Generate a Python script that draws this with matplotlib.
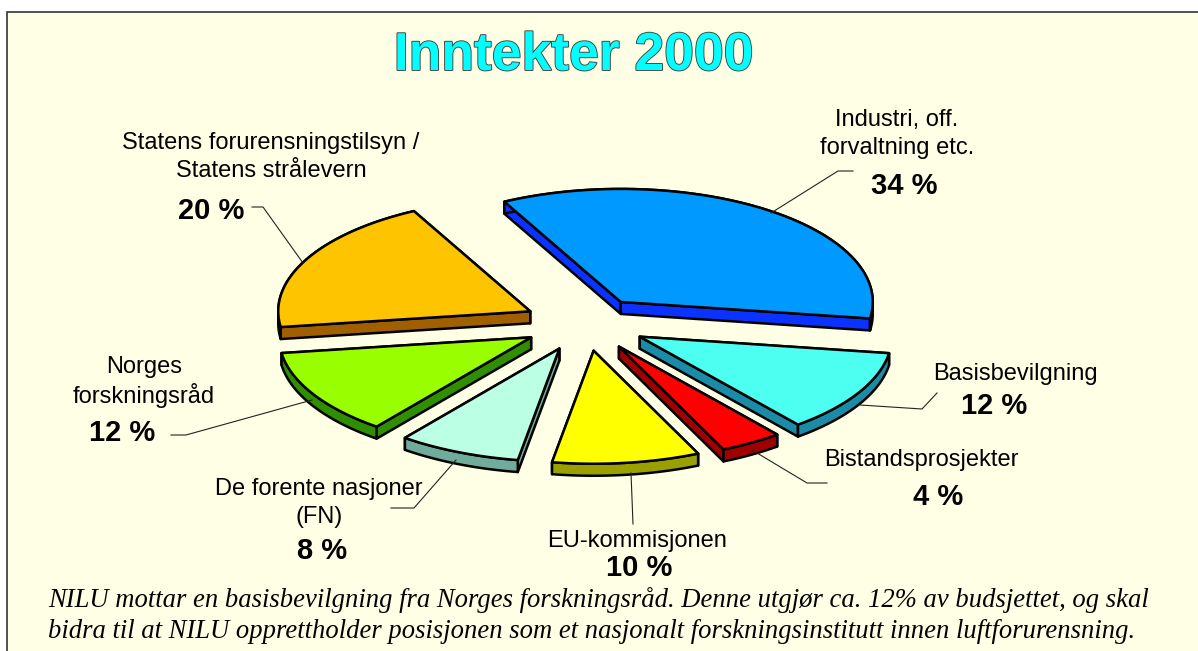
import numpy as np
import matplotlib
matplotlib.use('Agg')
from matplotlib import pyplot as plt
from matplotlib import patheffects as pe
from matplotlib.patches import Polygon, Rectangle

# data, clockwise from the top
categories = ['Industri, off.\nforvaltning etc.', 'Basisbevilgning', 'Bistandsprosjekter',
              'EU-kommisjonen', 'De forente nasjoner\n(FN)', 'Norges\nforskningsråd',
              'Statens forurensningstilsyn /\nStatens strålevern']
shares = [34, 12, 4, 10, 8, 12, 20]
title = 'Inntekter 2000'
note = ['NILU mottar en basisbevilgning fra Norges forskningsråd. Denne utgjør ca. 12% av budsjettet, og skal',
        'bidra til at NILU opprettholder posisjonen som et nasjonalt forskningsinstitutt innen luftforurensning.']

# styles
top_colors = ['#0099ff', '#4dfff0', '#ff0000', '#ffff00', '#bbffe5', '#99ff00', '#ffc400']
side_colors = ['#0a33ff', '#1a8ca8', '#a00000', '#99a000', '#6fac9c', '#2f8f00', '#a06000']
bg = '#ffffe5'

# pie geometry, in picture pixels
cx, cy = 585, 324
rx, ry = 252, 113
ex, ey = 62, 27
depth = 12
start_angle = 116
# the drawing is slightly skewed: small correction in degrees at each slice boundary
nudge = [1.5, -2, -1.5, -1.5, 0.5, 1, 0, 1.5]

# label text x, y and percent x, y (centres)
label_pos = [(897, 134), (1015, 374), (921, 460), (637, 541), (319, 503), (144, 382), (271, 157)]
pct_pos = [(904, 186), (994, 406), (938, 497), (639, 568), (322, 551), (122, 433), (211, 211)]
# leader lines
leaders = [[(771, 213), (838, 171), (853, 171)],
           [(860, 405), (922, 409), (937, 393)],
           [(752, 450), (807, 483), (827, 483)],
           [(631, 473), (633, 524)],
           [(456, 460), (414, 508), (391, 508)],
           [(312, 400), (186, 435), (171, 435)],
           [(303, 263), (263, 207), (252, 207)]]

fig = plt.figure(figsize=(11.98, 6.51), dpi=100, facecolor='white')
ax = fig.add_axes([0, 0, 1, 1])
ax.set_xlim(0, 1198)
ax.set_ylim(651, 0)
ax.axis('off')
ax.add_patch(Rectangle((7, 12), 1300, 800, facecolor=bg, edgecolor='#333333', lw=1.2))


def draw_slice(a1, a2, mid, top, side):
    ox = cx + ex * np.cos(np.radians(mid))
    oy = cy - ey * np.sin(np.radians(mid))
    t = np.radians(np.linspace(a1, a2, 80))
    arc = np.column_stack([ox + rx * np.cos(t), oy - ry * np.sin(t)])
    apex = np.array([ox, oy])
    down = np.array([0, depth])
    # cut faces from back to front, then the rim, then the top
    for edge in sorted((arc[0], arc[-1]), key=lambda p: p[1]):
        quad = [apex, edge, edge + down, apex + down]
        ax.add_patch(Polygon(quad, facecolor=side, edgecolor='black', lw=1.8, joinstyle='round'))
    rim = np.vstack([arc, arc[::-1] + down])
    ax.add_patch(Polygon(rim, facecolor=side, edgecolor='black', lw=1.8, joinstyle='round'))
    ax.add_patch(Polygon(np.vstack([apex, arc]), facecolor=top, edgecolor='black', lw=1.8,
                         joinstyle='round'))


angle = start_angle
total = sum(shares)
for i, (share, top, side) in enumerate(zip(shares, top_colors, side_colors)):
    sweep = 360.0 * share / total
    draw_slice(angle + nudge[i], angle - sweep + nudge[i + 1], angle - sweep / 2, top, side)
    angle -= sweep

for line in leaders:
    xs, ys = zip(*line)
    ax.plot(xs, ys, color='#222222', lw=0.8)

for cat, share, lp, pp in zip(categories, shares, label_pos, pct_pos):
    ax.text(lp[0], lp[1], cat, family='Liberation Sans', fontsize=17, ha='center', va='center',
            linespacing=1.3, color='black')
    ax.text(pp[0], pp[1], '{} %'.format(share), family='Liberation Sans', fontsize=21,
            fontweight='bold', ha='center', va='center', color='black')

ax.text(574, 56, title, family='Liberation Sans', fontsize=38.5, fontweight='bold', ha='center',
        va='center', color='#00ffff',
        path_effects=[pe.withStroke(linewidth=1.3, foreground='#404040')])

ax.text(48, 600, note[0], family='Liberation Serif', style='italic', fontsize=19.15, ha='left',
        va='center', color='black')
ax.text(48, 632, note[1], family='Liberation Serif', style='italic', fontsize=19.15, ha='left',
        va='center', color='black')

plt.savefig('out.png', dpi=100, facecolor='white')
